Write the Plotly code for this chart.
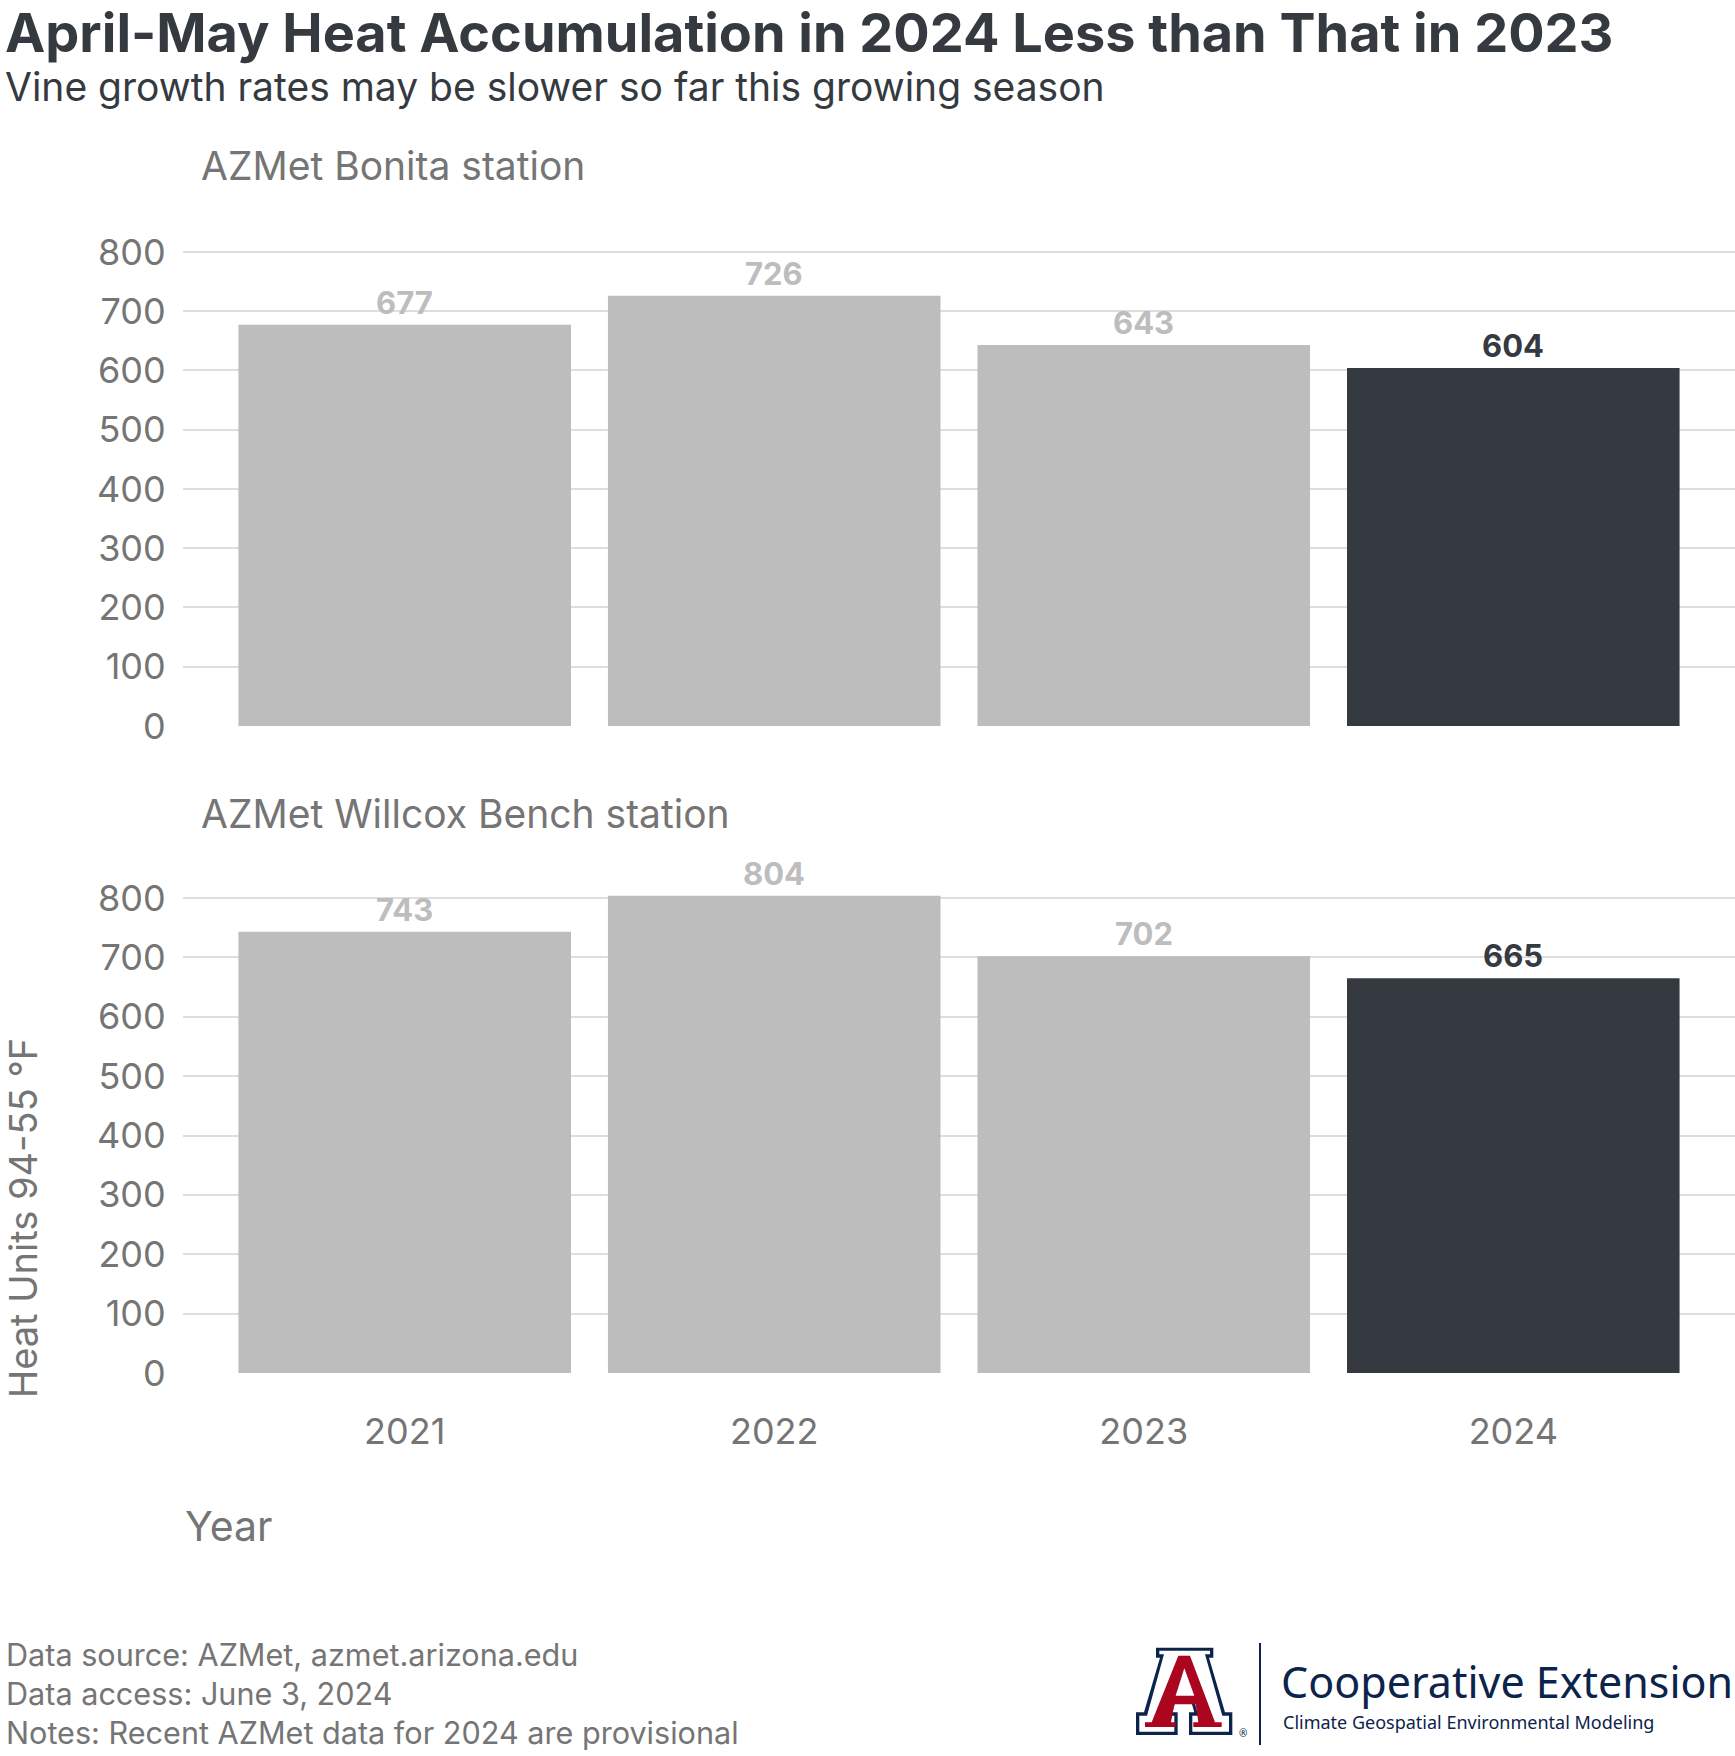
import plotly.graph_objects as go
from plotly.subplots import make_subplots

W, H = 1735, 1756

years = ["2021", "2022", "2023", "2024"]
bonita = [677, 726, 643, 604]
willcox = [743, 804, 702, 665]
stations = ["AZMet Bonita station", "AZMet Willcox Bench station"]
y_ticks = [0, 100, 200, 300, 400, 500, 600, 700, 800]

title = "April-May Heat Accumulation in 2024 Less than That in 2023"
subtitle = "Vine growth rates may be slower so far this growing season"
notes = [
    "Data source: AZMet, azmet.arizona.edu",
    "Data access: June 3, 2024",
    "Notes: Recent AZMet data for 2024 are provisional",
]

GRAY_BAR = "#bdbdbd"
DARK = "#343a40"
TXT = "#757575"
NAVY = "#0c234b"
RED = "#ab0520"
FONT = "Inter"


def px(x):
    return x / W


def py(y):
    return 1 - y / H


bar_colors = [GRAY_BAR, GRAY_BAR, GRAY_BAR, DARK]
label_colors = [GRAY_BAR, GRAY_BAR, GRAY_BAR, DARK]

fig = make_subplots(rows=2, cols=1)

ann = []
for i, vals in enumerate([bonita, willcox]):
    r = i + 1
    fig.add_trace(go.Bar(x=years, y=vals, marker_color=bar_colors, width=0.9,
                         marker_line_width=0, showlegend=False, hoverinfo="skip"), row=r, col=1)
    suffix = "" if r == 1 else str(r)
    # value labels; category axes take the category index as position
    for j, (v, c) in enumerate(zip(vals, label_colors)):
        ann.append(dict(x=j, y=v, xref="x" + suffix, yref="y" + suffix,
                        text=str(v), showarrow=False, yanchor="bottom", yshift=2,
                        font=dict(family=FONT, size=31, color=c, weight=700)))

fig.update_xaxes(type="category", range=[-0.6, 3.6], domain=[px(183), 1.0],
                 showgrid=False, showline=False, zeroline=False, automargin=False)
fig.update_xaxes(showticklabels=False, ticks="", row=1, col=1)
fig.update_xaxes(showticklabels=True, ticks="outside", ticklen=27, tickcolor="rgba(0,0,0,0)",
                 tickfont=dict(family=FONT, size=36, color=TXT), row=2, col=1)
fig.update_yaxes(range=[0, 845], tickvals=y_ticks, showgrid=True, gridcolor="#dedede", gridwidth=2,
                 showline=False, zeroline=False, automargin=False,
                 ticks="outside", ticklen=9, tickcolor="rgba(0,0,0,0)",
                 tickfont=dict(family=FONT, size=36, color=TXT))
fig.update_yaxes(domain=[py(726), py(225.3)], row=1, col=1)
fig.update_yaxes(domain=[py(1373), py(871.3)], row=2, col=1)


def text(x, y, s, size, color, weight=400, family=FONT, xanchor="left", angle=0):
    ann.append(dict(x=px(x), y=py(y), xref="paper", yref="paper", text=s, showarrow=False,
                    xanchor=xanchor, yanchor="middle", textangle=angle,
                    font=dict(family=family, size=size, color=color, weight=weight)))


text(3, 33, title, 54, DARK, weight=700)
text(3, 87, subtitle, 39, DARK)
text(199, 166, stations[0], 39, TXT)
text(199, 813, stations[1], 39, TXT)
text(183, 1526, "Year", 41, TXT)
text(23, 1218, "Heat Units 94-55 °F", 38, TXT, xanchor="center", angle=-90)
for k, s in enumerate(notes):
    text(4, 1654 + k * 39, s, 30.6, TXT)

# logo
text(1279, 1681, "Cooperative Extension", 43, NAVY, family="Noto Sans")
text(1281, 1722, "Climate Geospatial Environmental Modeling", 18, NAVY, family="Noto Sans")
text(1243, 1733, "®", 10, NAVY, family="Noto Sans", xanchor="center")


def path(pts, color):
    # pts in 3x zoom units relative to (1125, 1635)
    d = ""
    for j, (a, b) in enumerate(pts):
        d += ("M" if j == 0 else "L") + f"{px(1125 + a / 3):.5f},{py(1635 + b / 3):.5f} "
    return dict(type="path", path=d + "Z", xref="paper", yref="paper",
                fillcolor=color, line=dict(width=0), layer="above")


navy_pts = [(93, 38), (265, 38), (265, 68), (252, 68), (300, 232), (322, 232), (322, 300),
            (192, 300), (192, 232), (208, 232), (200, 205), (150, 205), (142, 232), (158, 232),
            (158, 300), (33, 300), (33, 232), (57, 232), (105, 68), (93, 68)]
white_pts = [(103, 47), (255, 47), (255, 58), (240, 58), (292, 242), (312, 242), (312, 290),
             (202, 290), (202, 242), (220, 242), (207, 196), (143, 196), (130, 242), (148, 242),
             (148, 290), (43, 290), (43, 242), (66, 242), (117, 58), (103, 58)]
red_pts = [(160, 62), (195, 62), (270, 262), (290, 262), (290, 276), (205, 276), (205, 262),
           (220, 262), (212, 208), (148, 208), (138, 262), (152, 262), (152, 276), (60, 276),
           (60, 262), (80, 262)]
hole_pts = [(178, 100), (152, 182), (208, 182)]

shapes = [path(navy_pts, NAVY), path(white_pts, "white"), path(red_pts, RED), path(hole_pts, "white"),
          dict(type="line", xref="paper", yref="paper", x0=px(1260), x1=px(1260), y0=py(1643), y1=py(1745),
               line=dict(color=NAVY, width=2))]

fig.update_layout(
    width=W, height=H, margin=dict(l=0, r=0, t=0, b=0, autoexpand=False),
    paper_bgcolor="white", plot_bgcolor="white",
    annotations=ann, shapes=shapes, bargap=0.1,
    font=dict(family=FONT, color=TXT),
)

# drop the browser's default body margin so the figure fills the window exactly
fig.write_html("out.html", post_script="document.body.style.margin='0';",
               config={"displayModeBar": False})
